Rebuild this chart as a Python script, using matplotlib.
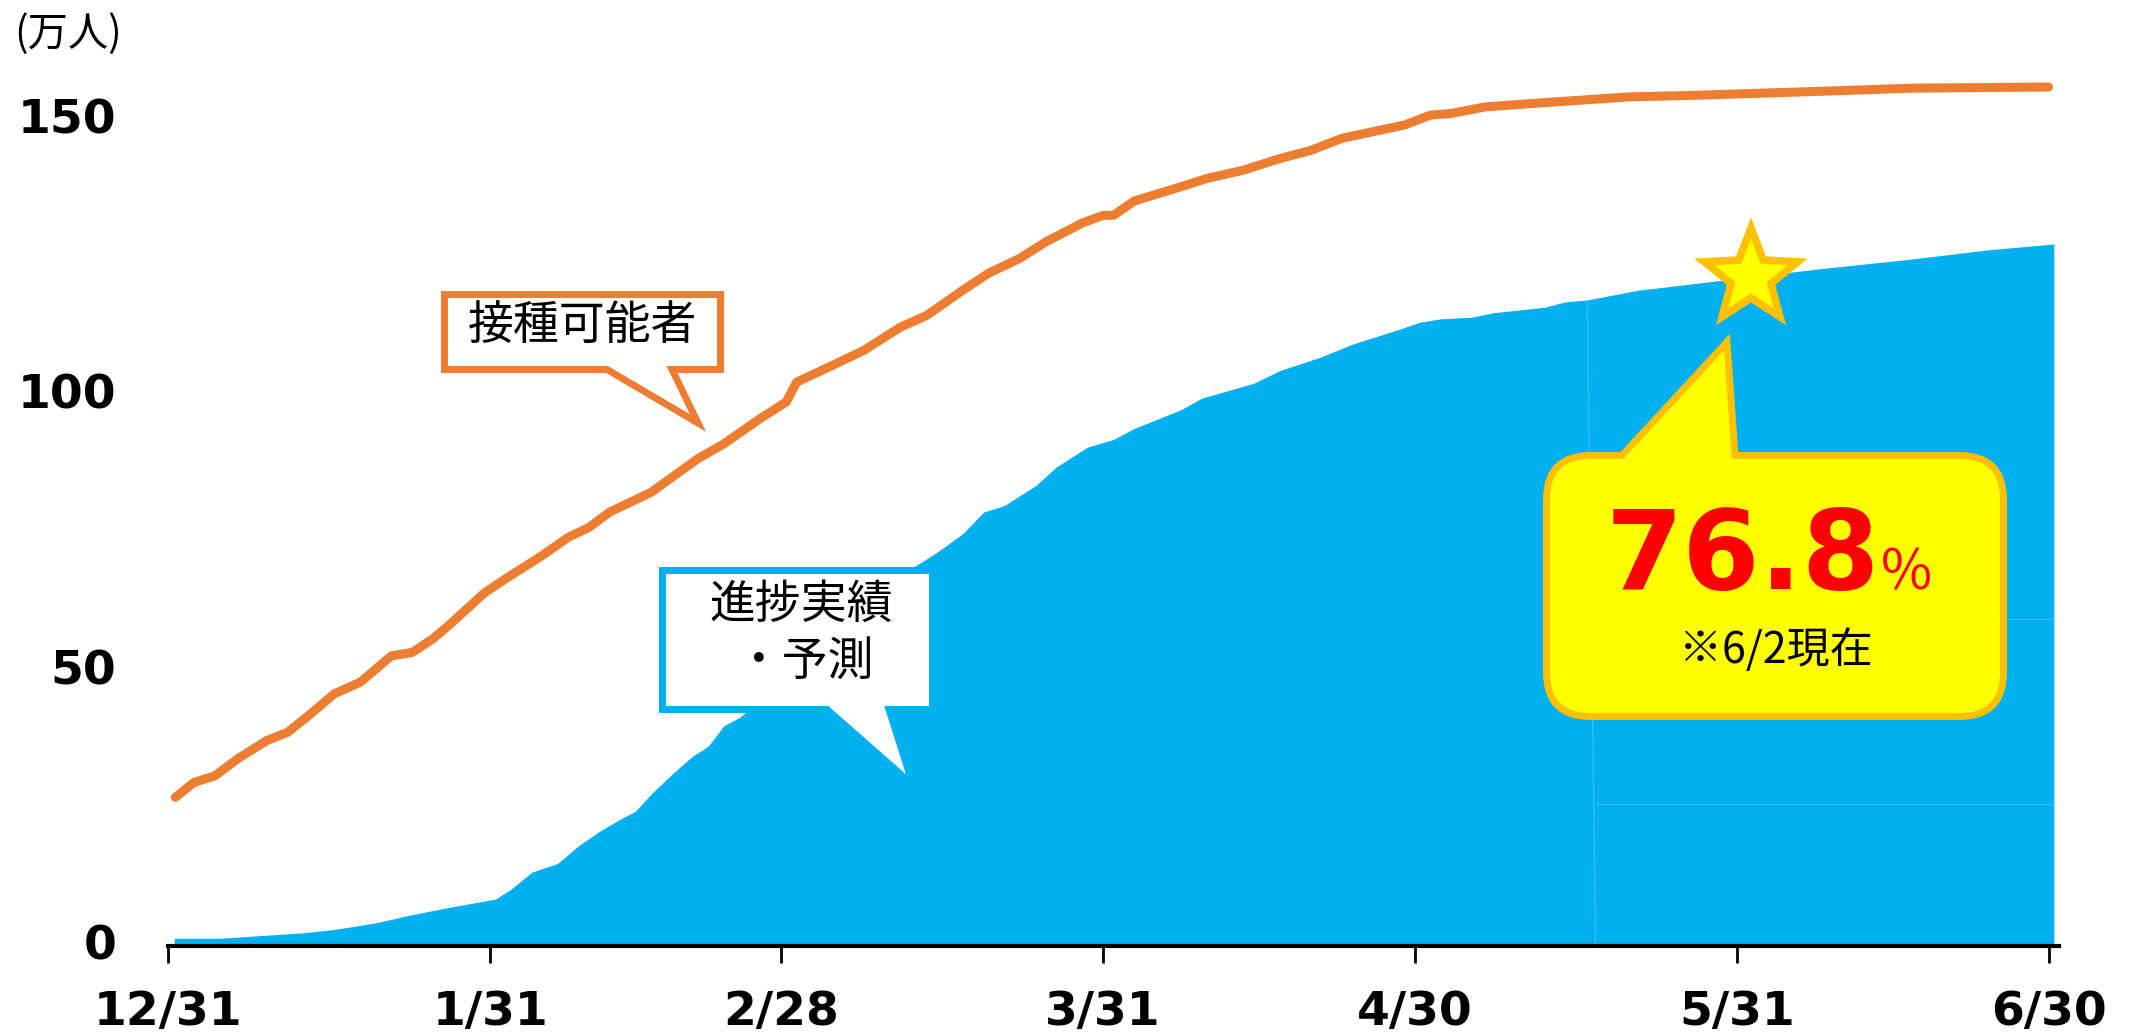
import numpy as np
import matplotlib
matplotlib.use("Agg")
import matplotlib.pyplot as plt
import matplotlib.transforms as mtransforms
from matplotlib.path import Path
from matplotlib.patches import PathPatch

plt.rcParams['font.family'] = ['Noto Sans CJK JP', 'DejaVu Sans']

# %% data (days since 12/31, values in 万人)
eligible_days = [0.7, 2.5, 4.5, 6.7, 9.5, 11.5, 13.5, 16, 18.5, 21.5, 23.5, 25.5, 27, 30.5,
                 32.5, 36, 38.5, 40.5, 42.5, 46.5, 51, 53.5, 57, 59.5, 60.5, 64, 67, 70.5,
                 73, 76.5, 79, 82, 84.5, 88, 90, 91, 93, 97.5, 100, 103.5, 107, 110, 113,
                 119, 121.5, 123.5, 126.8, 133.5, 140.5, 147, 157, 168, 181]
eligible = [27.0, 29.7, 30.9, 34.0, 37.3, 38.8, 41.8, 45.8, 47.9, 52.7, 53.3, 55.8, 58.2, 64.2,
            66.7, 70.9, 74.2, 76.0, 78.8, 82.4, 88.5, 91.2, 95.8, 98.8, 102.4, 105.5, 108.2, 112.4,
            114.5, 119.1, 122.2, 124.9, 127.9, 131.3, 132.7, 132.7, 135.3, 137.9, 139.4, 140.9, 143.0, 144.5, 146.7,
            149.1, 150.9, 151.2, 152.4, 153.3, 154.2, 154.5, 155.1, 155.8, 156.0]

progress_days = [0.6, 5, 9, 13, 16, 20, 23, 27, 30, 31.5, 33, 35, 37.5, 39.5, 41.5, 43.5, 45,
                 46.5, 48.5, 50.5, 52, 53.5, 55, 57, 59, 61, 63, 65, 67, 69, 71, 72.5, 74,
                 76.5, 78.5, 80.5, 83.5, 85.5, 88.5, 91, 93, 97.5, 99.5, 104.5, 107, 111, 114,
                 118.5, 120.5, 122.5, 125.5, 127.5, 132.5, 134.5, 136.5, 141.5, 150, 159, 168,
                 175, 181.5]
progress = [1.4, 1.4, 1.9, 2.4, 3.0, 4.2, 5.5, 7.0, 8.0, 8.5, 10.3, 13.4, 15.0, 18.2, 20.8, 23.0, 24.5,
            27.6, 31.2, 34.5, 36.3, 40.0, 41.5, 44.5, 48.0, 51.5, 55.0, 58.5, 62.0, 65.5, 68.0, 69.7, 71.5,
            74.9, 78.8, 80.0, 83.6, 87.0, 90.6, 92.0, 94.0, 97.4, 99.5, 102.2, 104.5, 107.0, 109.3,
            112.0, 113.3, 113.9, 114.2, 115.0, 116.0, 117.0, 117.3, 119.1, 121.0, 123.0, 124.8,
            126.4, 127.5]

tick_days = [0, 31, 59, 90, 120, 151, 181]
tick_labels = ['12/31', '1/31', '2/28', '3/31', '4/30', '5/31', '6/30']
y_ticks = [0, 50, 100, 150]

ORANGE = '#ED7D31'
BLUE = '#00B0F0'
YELLOW = '#FFFF00'
GOLD = '#FFC000'

# %%
W, H = 2134, 1036
fig = plt.figure(figsize=(W / 100, H / 100), dpi=100)
ax = fig.add_axes([168 / W, (H - 946) / H, (2059 - 168) / W, (946 - 65) / H])

ax.fill_between(progress_days, progress, 0, color=BLUE, lw=0, zorder=1)
ax.plot(eligible_days, eligible, color=ORANGE, lw=6.5, solid_capstyle='round',
        solid_joinstyle='round', zorder=3, clip_on=False)

# faint seams inside the filled area
seam = '#3CC2F2'
ax.plot([136.6, 137.4], [117.2, 0], color=seam, lw=0.8, zorder=2)
ax.plot([137.4, 181.5], [25.8, 25.8], color=seam, lw=0.8, zorder=2)
ax.plot([137.2, 181.5], [59.3, 59.3], color=seam, lw=0.8, zorder=2)

ax.set_xlim(0, 182)
ax.set_ylim(0, 160)
ax.set_xticks(tick_days)
ax.set_xticklabels(tick_labels, fontsize=34, fontweight='bold', family='DejaVu Sans')
ax.set_yticks(y_ticks)
ax.set_yticklabels([str(v) for v in y_ticks], fontsize=34, fontweight='bold', family='DejaVu Sans')
ax.tick_params(axis='x', length=12, width=2, pad=20, direction='out')
ax.tick_params(axis='y', length=0, pad=37)
shift = mtransforms.ScaledTranslation(0, 4 / 100, fig.dpi_scale_trans)
for lab in ax.get_yticklabels():
    lab.set_transform(lab.get_transform() + shift)
for s in ['top', 'right', 'left']:
    ax.spines[s].set_visible(False)
ax.spines['bottom'].set_linewidth(3)
ax.patch.set_visible(False)

fig.text(14 / W, 1 - 34 / H, '(万人)', fontsize=29, ha='left', va='center')


# %% callouts, drawn in figure pixel coordinates
def add_shape(verts, codes, fc, ec, lw, z=5):
    v = [(x / W, 1 - y / H) for x, y in verts]
    p = PathPatch(Path(v, codes), transform=fig.transFigure, fc=fc, ec=ec, lw=lw,
                  joinstyle='miter', zorder=z)
    fig.add_artist(p)


M, L, C3, CL = Path.MOVETO, Path.LINETO, Path.CURVE3, Path.CLOSEPOLY


def rect_bubble(x0, y0, x1, y1, pa, pb, tip, fc, ec):
    verts = [(x0, y0), (x1, y0), (x1, y1), (pb, y1), tip, (pa, y1), (x0, y1), (x0, y0)]
    codes = [M, L, L, L, L, L, L, CL]
    add_shape(verts, codes, fc, ec, 5)


def round_bubble(x0, y0, x1, y1, r, pa, pb, tip, fc, ec):
    verts = [(pb, y0), (x1 - r, y0), (x1, y0), (x1, y0 + r), (x1, y1 - r), (x1, y1),
             (x1 - r, y1), (x0 + r, y1), (x0, y1), (x0, y1 - r), (x0, y0 + r), (x0, y0),
             (x0 + r, y0), (pa, y0), tip, (pb, y0)]
    codes = [M, L, C3, C3, L, C3, C3, L, C3, C3, L, C3, C3, L, L, CL]
    add_shape(verts, codes, fc, ec, 5)


# 接種可能者
rect_bubble(444.5, 294.5, 720.5, 369.5, 607, 672, (698, 423), 'white', ORANGE)
fig.text(582 / W, 1 - 326 / H, '接種可能者', fontsize=33, ha='center', va='center', zorder=6)

# 進捗実績・予測
rect_bubble(662.5, 570.5, 932.5, 709.5, 827, 889, (913, 785), 'white', BLUE)
fig.text(801 / W, 1 - 605 / H, '進捗実績', fontsize=33, ha='center', va='center', zorder=6)
fig.text(805 / W, 1 - 662 / H, '・予測', fontsize=33, ha='center', va='center', zorder=6)

# 76.8% bubble
round_bubble(1546.5, 455.5, 2003.5, 716.5, 44, 1622, 1735, (1727, 342), YELLOW, GOLD)
fig.text(1880 / W, 1 - 589 / H, '76.8', fontsize=80, fontweight='bold', color='#FF0000',
         family='DejaVu Sans', ha='right', va='baseline', zorder=6)
fig.text(1881 / W, 1 - 589 / H, '%', fontsize=40, color='#FF0000',
         ha='left', va='baseline', zorder=6)
fig.text(1776 / W, 1 - 651 / H, '※6/2現在', fontsize=31, ha='center', va='center', zorder=6)

# star
cx, cy, R, r = 1751, 277, 49, 21
ang = np.pi / 2 + np.arange(10) * np.pi / 5
rad = np.where(np.arange(10) % 2 == 0, R, r)
star = [(cx + rr * np.cos(a), cy - rr * np.sin(a)) for rr, a in zip(rad, ang)]
add_shape(star + [star[0]], [M] + [L] * 9 + [CL], YELLOW, GOLD, 5.5)

fig.savefig('out.png', dpi=100)
